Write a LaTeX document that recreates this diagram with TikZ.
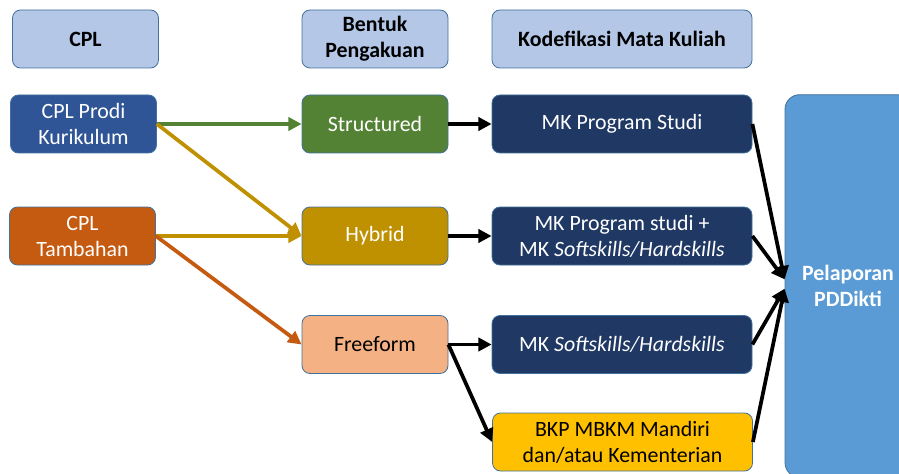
\documentclass[tikz,border=0pt]{standalone}
\usepackage{fontspec}
\setmainfont{Carlito}
\usetikzlibrary{arrows.meta}
\definecolor{edgeblue}{HTML}{41719C}
\definecolor{headfill}{HTML}{B4C7E7}
\definecolor{prodiblue}{HTML}{2F5597}
\definecolor{tambahorange}{HTML}{C55A11}
\definecolor{structgreen}{HTML}{548235}
\definecolor{hybridgold}{HTML}{BF9000}
\definecolor{freepeach}{HTML}{F4B183}
\definecolor{mknavy}{HTML}{203864}
\definecolor{bkpyellow}{HTML}{FFC000}
\definecolor{pelblue}{HTML}{5B9BD5}
\begin{document}
\begin{tikzpicture}[x=0.75pt,y=-0.75pt,
  box/.style={draw=edgeblue,line width=0.6pt,rounded corners=6pt,minimum width=109.5pt,
    minimum height=43.5pt,align=center,inner sep=1pt,font=\fontsize{16.4}{19.5}\selectfont},
  widebox/.style={box,minimum width=195pt},
  head/.style={fill=headfill,font=\fontsize{16.4}{19.5}\selectfont\bfseries},
  dark/.style={fill=#1,text=white},
  link/.style={line width=2.8pt,-{Triangle[length=10pt,width=10pt]}}]
 \clip (0,0) rectangle (899,474);
 % headers
 \node[box,head] (hcpl) at (85.5,39) {CPL};
 \node[box,head] (hbentuk) at (375,39) {Bentuk\\Pengakuan};
 \node[widebox,head] (hkode) at (622,39) {Kodefikasi Mata Kuliah};
 % CPL
 \node[box,dark=prodiblue] (prodi) at (83.5,124) {CPL Prodi\\Kurikulum};
 \node[box,dark=tambahorange] (tambah) at (82.5,236) {CPL\\Tambahan};
 % bentuk pengakuan
 \node[box,dark=structgreen] (struct) at (375,124) {Structured};
 \node[box,dark=hybridgold] (hybrid) at (375,236) {Hybrid};
 \node[box,fill=freepeach] (free) at (375,344.5) {Freeform};
 % mata kuliah
 \node[widebox,dark=mknavy] (mkprodi) at (622,124) {MK Program Studi};
 \node[widebox,dark=mknavy] (mkboth) at (622,236) {MK Program studi +\\MK \textit{Softskills/Hardskills}};
 \node[widebox,dark=mknavy] (mksoft) at (622,344.5) {MK \textit{Softskills/Hardskills}};
 \node[widebox,fill=bkpyellow] (bkp) at (622.5,442) {BKP MBKM Mandiri\\dan/atau Kementerian};
 \node[box,dark=pelblue,rounded corners=11pt,minimum width=94.5pt,minimum height=287pt,
   font=\fontsize{16.4}{19.5}\selectfont\bfseries] (pel) at (848,286) {Pelaporan\\PDDikti};
 % links
 \draw[link,structgreen] (prodi.east) -- (struct.west);
 \draw[link,hybridgold] (prodi.east) -- (hybrid.west);
 \draw[link,hybridgold] (tambah.east) -- (hybrid.west);
 \draw[link,tambahorange] (tambah.east) -- (free.west);
 \draw[link] (struct) -- (mkprodi);
 \draw[link] (hybrid) -- (mkboth);
 \draw[link] (free.east) -- (mksoft.west);
 \draw[link] (free.east) -- (bkp.west);
 \draw[link] (mkprodi.east) -- ([yshift=5pt]pel.west);
 \draw[link] (mkboth.east) -- ([yshift=5pt]pel.west);
 \draw[link] (mksoft.east) -- ([yshift=-2pt]pel.west);
 \draw[link] (bkp.east) -- ([yshift=-2pt]pel.west);
\end{tikzpicture}
\end{document}
